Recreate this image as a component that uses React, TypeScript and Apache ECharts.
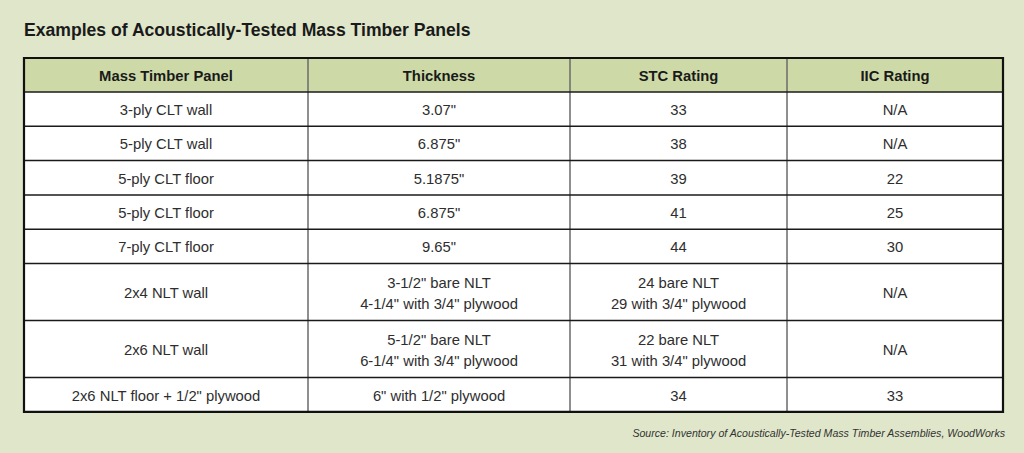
import React, { useEffect, useRef } from "react";
import * as echarts from "echarts";

const title = "Examples of Acoustically-Tested Mass Timber Panels";
const headers = ["Mass Timber Panel", "Thickness", "STC Rating", "IIC Rating"];
const panels = [
  "3-ply CLT wall",
  "5-ply CLT wall",
  "5-ply CLT floor",
  "5-ply CLT floor",
  "7-ply CLT floor",
  "2x4 NLT wall",
  "2x6 NLT wall",
  "2x6 NLT floor + 1/2\" plywood",
];
const thickness = [
  "3.07\"",
  "6.875\"",
  "5.1875\"",
  "6.875\"",
  "9.65\"",
  "3-1/2\" bare NLT\n4-1/4\" with 3/4\" plywood",
  "5-1/2\" bare NLT\n6-1/4\" with 3/4\" plywood",
  "6\" with 1/2\" plywood",
];
const stc = [
  "33",
  "38",
  "39",
  "41",
  "44",
  "24 bare NLT\n29 with 3/4\" plywood",
  "22 bare NLT\n31 with 3/4\" plywood",
  "34",
];
const iic = ["N/A", "N/A", "22", "25", "30", "N/A", "N/A", "33"];
const source = "Source: Inventory of Acoustically-Tested Mass Timber Assemblies, WoodWorks";

export default function App() {
  const ref = useRef<HTMLDivElement>(null);
  useEffect(() => {
    if (!ref.current) return;
    const chart = echarts.init(ref.current, null, { renderer: "svg" });
    const font = "'Liberation Sans', Arial, Helvetica, sans-serif";
    const left = 24;
    const right = 1003;
    const top = 58;
    const headerH = 34;
    const colX = [left, 308, 570, 787, right];
    const rows = panels.map((p, i) => [p, thickness[i], stc[i], iic[i]]);
    const rowH = rows.map((r) => {
      const lines = Math.max(...r.map((c) => c.split("\n").length));
      return lines > 1 ? 57 : 34.3;
    });
    const elements: any[] = [];
    elements.push({
      type: "text",
      x: left,
      y: 30,
      style: {
        text: title,
        font: `bold 17.6px ${font}`,
        fill: "#1a1a1a",
        textVerticalAlign: "middle",
        textAlign: "left",
      },
    });
    let y = top;
    const bottom = top + headerH + rowH.reduce((a, b) => a + b, 0);
    elements.push({
      type: "rect",
      shape: { x: left, y: top, width: right - left, height: headerH },
      style: { fill: "#cddaa7" },
    });
    elements.push({
      type: "rect",
      shape: { x: left, y: top + headerH, width: right - left, height: bottom - top - headerH },
      style: { fill: "#ffffff" },
    });
    headers.forEach((h, c) => {
      elements.push({
        type: "text",
        x: (colX[c] + colX[c + 1]) / 2,
        y: top + headerH / 2 + 1,
        style: {
          text: h,
          font: `bold 14.8px ${font}`,
          fill: "#1a1a1a",
          textAlign: "center",
          textVerticalAlign: "middle",
        },
      });
    });
    y = top + headerH;
    const hLines: number[] = [y];
    rows.forEach((r, i) => {
      const h = rowH[i];
      r.forEach((cell, c) => {
        elements.push({
          type: "text",
          x: (colX[c] + colX[c + 1]) / 2,
          y: y + h / 2 + 1,
          style: {
            text: cell,
            font: `14.8px ${font}`,
            fill: "#2e2e2e",
            textAlign: "center",
            textVerticalAlign: "middle",
            lineHeight: 21,
          },
        });
      });
      y += h;
      hLines.push(y);
    });
    for (let c = 1; c < colX.length - 1; c++) {
      elements.push({
        type: "line",
        shape: { x1: colX[c], y1: top, x2: colX[c], y2: bottom },
        style: { stroke: "#6a6a6a", lineWidth: 1.5 },
      });
    }
    hLines.slice(0, -1).forEach((hy) => {
      elements.push({
        type: "line",
        shape: { x1: left, y1: hy, x2: right, y2: hy },
        style: { stroke: "#1a1a1a", lineWidth: 1.5 },
      });
    });
    elements.push({
      type: "rect",
      shape: { x: left, y: top, width: right - left, height: bottom - top },
      style: { fill: "none", stroke: "#111111", lineWidth: 2.2 },
    });
    elements.push({
      type: "text",
      x: 1005,
      y: 433,
      style: {
        text: source,
        font: `italic 10.6px ${font}`,
        fill: "#333333",
        textAlign: "right",
        textVerticalAlign: "middle",
      },
    });
    chart.setOption({
      animation: false,
      backgroundColor: "#dfe6c9",
      graphic: { elements },
    });
    return () => chart.dispose();
  }, []);
  return (
    <div
      ref={ref}
      style={{ position: "fixed", left: 0, top: 0, width: 1024, height: 453 }}
    />
  );
}
